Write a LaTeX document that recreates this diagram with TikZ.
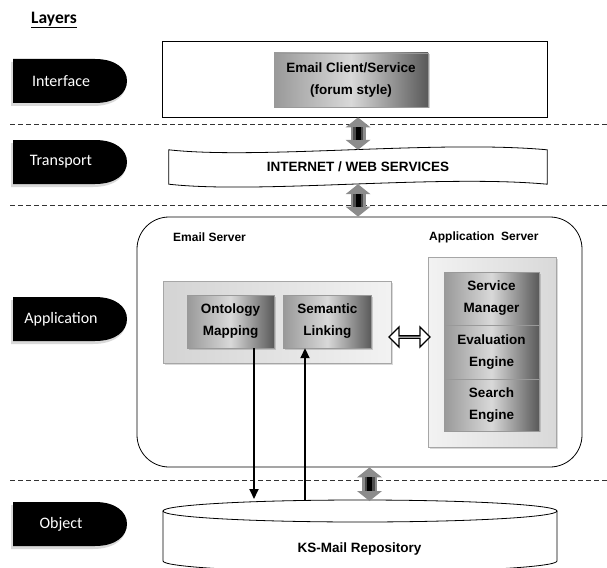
\documentclass[tikz,border=0pt]{standalone}
\usepackage{fontspec}
\setmainfont{Liberation Sans}
\newfontfamily\calfont{Carlito}
\usetikzlibrary{positioning,calc,shadows,shapes.arrows,arrows.meta}

\begin{document}
\begin{tikzpicture}[x=1pt, y=-1pt,
	lbl/.style={font=\fontsize{13.5}{22}\selectfont\bfseries, align=center, inner sep=0pt},
	srvlbl/.style={font=\fontsize{12}{14}\selectfont\bfseries, anchor=west, inner sep=0pt},
	tabtext/.style={font=\calfont\fontsize{16}{18}\selectfont, text=white},
	gbox/.style={lbl, draw=gray!80, left color=gray!80, right color=gray!70!black, middle color=gray!30,
		drop shadow={shadow xshift=1.5pt, shadow yshift=-1.5pt, opacity=0.35}},
	pbox/.style={draw=gray!70, left color=gray!34, right color=gray!10,
		drop shadow={shadow xshift=2pt, shadow yshift=-2pt, opacity=0.3}},
	layerline/.style={dashed, dash pattern=on 5pt off 3pt, gray!40!black, line width=1pt},
	thickarrow/.style={line width=15pt, draw=gray!90,
		{Triangle[width=25pt,length=10pt,line width=0pt]}-{Triangle[width=25pt,length=10pt,line width=0pt]},
		postaction={draw=black!70, -, line width=10pt, shorten <=10pt, shorten >=10pt},
		postaction={draw=black, -, line width=5pt, shorten <=10pt, shorten >=10pt}},
	dbarrow/.style={line width=1.8pt, -{Triangle[length=10pt,width=9pt]}}
	]
	\useasboundingbox (0,0) rectangle (607,567);

	\node [font=\calfont\fontsize{17.5}{20}\selectfont\bfseries, anchor=west, inner sep=0pt] (layers) at (31,20) {\underline{Layers}};

	% layer tabs
	\foreach \ty/\tname in {81/Interface, 162/Transport, 319/Application, 524/Object} {
		\fill [gray!30, shift={(-2,3)}] (13,\ty-22) -- (95,\ty-22) .. controls (116,\ty-22) and (128,\ty-12) .. (128,\ty)
			.. controls (128,\ty+12) and (116,\ty+22) .. (95,\ty+22) -- (13,\ty+22) -- cycle;
		\fill [black] (13,\ty-22) -- (95,\ty-22) .. controls (116,\ty-22) and (127,\ty-12) .. (127,\ty)
			.. controls (127,\ty+12) and (116,\ty+22) .. (95,\ty+22) -- (13,\ty+22) -- cycle;
		\node [tabtext] (tab\tname) at (61,\ty) {\tname};
	}

	\foreach \dy in {124,205,480} {
		\draw [layerline] (10,\dy) -- (607,\dy);
	}

	% interface
	\node [draw, line width=0.8pt, minimum width=385, minimum height=76, fill=white] (ifbox) at (354.5,79) {};
	\node [gbox, minimum width=154, minimum height=54] (client) at (351,80) {Email Client/Service\\(forum style)};

	% transport
	\node [lbl, minimum width=378, minimum height=34] (inet) at (358,167) {};
	\draw [fill=white, line width=0.8pt] (inet.north west) .. controls +(90,10) and +(-110,-10) .. (inet.north east)
		-- (inet.south east) .. controls +(-110,-10) and +(90,10) .. (inet.south west) -- cycle;
	\node [lbl] at (inet) {INTERNET / WEB SERVICES};

	% application
	\node [draw, line width=0.8pt, rounded corners=32pt, minimum width=445, minimum height=250] (appl) at (359.5,342) {};
	\node [srvlbl] (emaillbl) at (173,237) {Email Server};
	\node [srvlbl] (applbl) at (429,237) {Application\ \ Server};
	\node [pbox, minimum width=228, minimum height=82] (esrv) at (277,322) {};
	\node [gbox, minimum width=87, minimum height=53] (onto) at (230.5,321.5) {Ontology\\Mapping};
	\node [gbox, minimum width=88, minimum height=53, right=9pt of onto] (sem) {Semantic\\Linking};
	\node [pbox, left color=gray!10, right color=gray!30, minimum width=128, minimum height=190] (asrv) at (492,352) {};
	\node [gbox, minimum width=95, minimum height=53] (smgr) at (491.5,298.5) {Service\\Manager};
	\node [gbox, minimum width=95, minimum height=53, below=0pt of smgr] (evl) {Evaluation\\Engine};
	\node [gbox, minimum width=95, minimum height=52, below=0pt of evl] (srch) {Search\\Engine};
	\node [double arrow, draw, fill=white, line width=1.3pt, minimum width=20, minimum height=41,
		double arrow head extend=5pt, inner sep=0pt] (link) at ($(esrv.east)!0.5!(asrv.west)$) {};

	% object
	\fill [white] (163,511) -- (163,561) arc [start angle=180, end angle=0, x radius=197, y radius=11] -- (557,511) -- cycle;
	\draw [line width=0.8pt] (163,511) -- (163,561) arc [start angle=180, end angle=0, x radius=197, y radius=11] -- (557,511);
	\draw [line width=0.8pt, fill=white] (360,511) ellipse [x radius=197, y radius=11];
	\node [lbl] (repo) at (359.5,549) {KS-Mail Repository};
	\coordinate (dbdown) at (254,499);
	\coordinate (dbup) at (305,500);
	\coordinate (dbin) at (369.5,501);

	% connectors
	\draw [thickarrow] (inet.north |- ifbox.south) -- (inet.north);
	\draw [thickarrow] (inet.south) -- (inet.south |- appl.north);
	\draw [thickarrow] (dbin |- appl.south) -- (dbin);
	\draw [dbarrow] (dbdown |- onto.south) -- (dbdown);
	\draw [dbarrow] (dbup) -- (dbup |- sem.south);
\end{tikzpicture}
\end{document}
